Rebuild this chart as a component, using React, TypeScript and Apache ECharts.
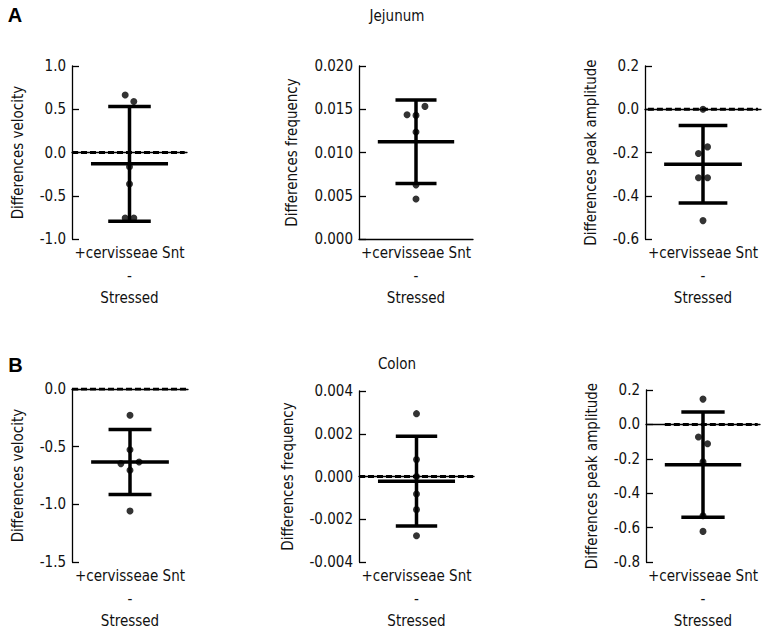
import React, { useEffect, useRef } from "react";
import * as echarts from "echarts";

// ---------- data ----------
const categoryLabel = "+cervisseae Snt\n-\nStressed";
const sectionTitles = ["Jejunum", "Colon"];
const panelLetters = ["A", "B"];
const yAxisNames = [
  "Differences velocity",
  "Differences frequency",
  "Differences peak amplitude",
  "Differences velocity",
  "Differences frequency",
  "Differences peak amplitude",
];
const yMins = [-1, 0, -0.6, -1.5, -0.004, -0.8];
const yMaxs = [1, 0.02, 0.2, 0, 0.004, 0.2];
const yIntervals = [0.5, 0.005, 0.2, 0.5, 0.002, 0.2];
const yDecimals = [1, 3, 1, 1, 3, 1];

const jejunumVelocity = [0.665, 0.59, -0.165, -0.365, -0.758, -0.758];
const jejunumFrequency = [0.01533, 0.01436, 0.01429, 0.01236, 0.00626, 0.00463];
const jejunumAmplitude = [0.0, -0.174, -0.205, -0.317, -0.317, -0.515];
const colonVelocity = [-0.228, -0.526, -0.647, -0.633, -0.705, -1.058];
const colonFrequency = [0.00294, 0.00079, 0.0, -0.00082, -0.00155, -0.00277];
const colonAmplitude = [0.147, -0.073, -0.112, -0.218, -0.531, -0.622];
const panelPoints = [
  jejunumVelocity,
  jejunumFrequency,
  jejunumAmplitude,
  colonVelocity,
  colonFrequency,
  colonAmplitude,
];

const means = [-0.131, 0.01124, -0.254, -0.633, -0.00022, -0.234];
const sds = [0.663, 0.00482, 0.179, 0.282, 0.0021, 0.306];
const showZeroLine = [true, false, true, true, true, true];

// ---------- layout / style (not data) ----------
const jitters = [
  [-0.075, 0.075, 0, 0, -0.075, 0.075],
  [0.157, -0.157, 0, 0, 0, 0],
  [0, 0.078, -0.078, -0.078, 0.078, 0],
  [0, 0, -0.157, 0.157, 0, 0],
  [0, 0, 0, 0, 0, 0],
  [0, -0.08, 0.08, 0, 0, 0],
];
const grids = [
  { left: 72, top: 66, width: 115, height: 173 },
  { left: 359, top: 66, width: 114, height: 173 },
  { left: 645, top: 66, width: 116, height: 173 },
  { left: 72, top: 389, width: 116, height: 173 },
  { left: 359, top: 391, width: 115, height: 171 },
  { left: 646, top: 390, width: 114, height: 172 },
];
const nameGaps = [47, 60, 47, 47, 64, 47];
const zeroLineRange = [
  [-1, 0.96],
  [-1, 1],
  [-0.95, 0.95],
  [-1, 1],
  [-1, 1],
  [-0.67, 0.96],
];
const capHalf = [0.37, 0.36, 0.42, 0.37, 0.36, 0.38];
const meanHalf = 0.67;

const FONT = "'DejaVu Sans Condensed', 'DejaVu Sans', sans-serif";
const FS = 15;
const TXT = "#111";

function buildOption() {
  const grid: any[] = [];
  const xAxis: any[] = [];
  const yAxis: any[] = [];
  const series: any[] = [];

  for (let i = 0; i < 6; i++) {
    grid.push({ ...grids[i], containLabel: false });
    xAxis.push({
      type: "category",
      gridIndex: i,
      data: [categoryLabel],
      axisLine: { show: true, lineStyle: { color: "#000", width: 1.3 } },
      axisTick: { show: false },
      axisLabel: {
        color: TXT,
        fontFamily: FONT,
        fontSize: FS,
        lineHeight: 22.5,
        margin: 3,
        interval: 0,
      },
      splitLine: { show: false },
    });
    xAxis.push({
      type: "value",
      gridIndex: i,
      min: -1,
      max: 1,
      show: false,
    });
    const d = yDecimals[i];
    yAxis.push({
      type: "value",
      gridIndex: i,
      min: yMins[i],
      max: yMaxs[i],
      interval: yIntervals[i],
      name: yAxisNames[i],
      nameLocation: "middle",
      nameRotate: 90,
      nameGap: nameGaps[i],
      nameTextStyle: { color: TXT, fontFamily: FONT, fontSize: FS },
      axisLine: { show: true, onZero: false, lineStyle: { color: "#000", width: 1.3 } },
      axisTick: { show: true, inside: true, length: 7, lineStyle: { color: "#000", width: 1.3 } },
      axisLabel: {
        color: TXT,
        fontFamily: FONT,
        fontSize: FS,
        margin: 6,
        formatter: (v: number) => (Math.abs(v) < 1e-9 ? 0 : v).toFixed(d),
      },
      splitLine: { show: false },
    });

    const xIdx = 2 * i + 1;
    const m = means[i];
    const s = sds[i];
    const lineBase = {
      type: "line",
      xAxisIndex: xIdx,
      yAxisIndex: i,
      symbol: "none",
      silent: true,
      lineStyle: { color: "#000", width: 3.5, cap: "butt" },
    };
    if (showZeroLine[i]) {
      series.push({
        ...lineBase,
        data: [
          [zeroLineRange[i][0], 0],
          [zeroLineRange[i][1], 0],
        ],
        lineStyle: { color: "#000", width: 3, type: [6, 3] },
        z: 3,
      });
    }
    series.push({ ...lineBase, data: [[-meanHalf, m], [meanHalf, m]], z: 4 });
    series.push({ ...lineBase, data: [[0, m - s], [0, m + s]], z: 4 });
    series.push({ ...lineBase, data: [[-capHalf[i], m + s], [capHalf[i], m + s]], z: 4 });
    series.push({ ...lineBase, data: [[-capHalf[i], m - s], [capHalf[i], m - s]], z: 4 });
    series.push({
      type: "scatter",
      xAxisIndex: xIdx,
      yAxisIndex: i,
      symbol: "circle",
      symbolSize: 7,
      itemStyle: { color: "#000" },
      data: panelPoints[i].map((v, k) => [jitters[i][k], v]),
      z: 5,
    });
  }

  const textStyle = (extra: any) => ({
    fill: TXT,
    fontFamily: FONT,
    fontSize: FS,
    align: "center",
    textAlign: "center",
    verticalAlign: "middle",
    textVerticalAlign: "middle",
    ...extra,
  });

  const graphic = [
    { type: "text", x: 397, y: 16, style: textStyle({ text: sectionTitles[0] }) },
    { type: "text", x: 397, y: 364, style: textStyle({ text: sectionTitles[1] }) },
    {
      type: "text",
      x: 15,
      y: 15,
      style: textStyle({ text: panelLetters[0], fontFamily: "Liberation Sans", fontWeight: "bold", fontSize: 20, fill: "#000" }),
    },
    {
      type: "text",
      x: 15.5,
      y: 364.5,
      style: textStyle({ text: panelLetters[1], fontFamily: "Liberation Sans", fontWeight: "bold", fontSize: 20, fill: "#000" }),
    },
  ];

  return {
    animation: false,
    backgroundColor: "#fff",
    grid,
    xAxis,
    yAxis,
    series,
    graphic,
  };
}

export default function App() {
  const ref = useRef<HTMLDivElement>(null);
  useEffect(() => {
    if (!ref.current) return;
    const chart = echarts.init(ref.current, undefined, { renderer: "svg" });
    chart.setOption(buildOption() as any);
    return () => chart.dispose();
  }, []);
  return (
    <div
      ref={ref}
      style={{ position: "fixed", left: 0, top: 0, width: 772, height: 637, background: "#fff" }}
    />
  );
}
